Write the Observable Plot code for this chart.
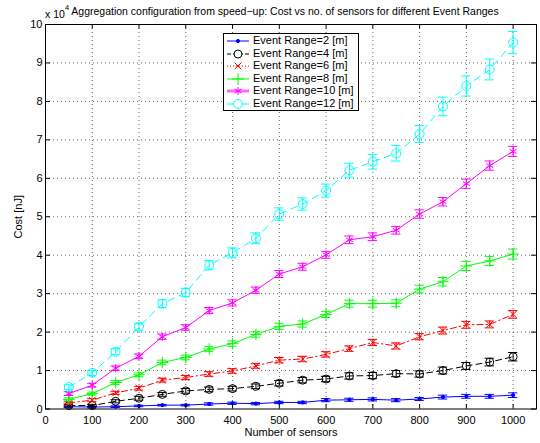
<!DOCTYPE html>
<html><head><meta charset="utf-8">
<script src="https://cdn.jsdelivr.net/npm/d3@7"></script>
<script src="https://cdn.jsdelivr.net/npm/@observablehq/plot@0.6"></script>
<style>
body{margin:0;background:#fff;font-family:"Liberation Sans",Arial,sans-serif;}
#wrap{position:relative;width:540px;height:443px;}
.t{position:absolute;font-size:11px;white-space:nowrap;color:#000;line-height:1;}
#legend{position:absolute;left:223px;top:33px;width:136px;height:78px;border:1px solid #000;background:#fff;box-sizing:border-box;}
.row{position:absolute;left:0;height:12px;font-size:11px;white-space:nowrap;}
.row svg{position:absolute;left:2px;top:0;}
.row span{position:absolute;left:29px;top:-1px;line-height:13px;}
</style></head>
<body><div id="wrap"></div>
<script>
const sensors = [50,100,150,200,250,300,350,400,450,500,550,600,650,700,750,800,850,900,950,1000];
const names = ["Event Range=2 [m]","Event Range=4 [m]","Event Range=6 [m]","Event Range=8 [m]","Event Range=10 [m]","Event Range=12 [m]"];
const range2  = [0.06,0.05,0.06,0.08,0.10,0.10,0.13,0.15,0.14,0.17,0.17,0.23,0.24,0.25,0.23,0.26,0.31,0.33,0.33,0.36];
const range4  = [0.09,0.09,0.20,0.28,0.38,0.47,0.51,0.53,0.59,0.67,0.75,0.78,0.86,0.87,0.92,0.91,1.00,1.12,1.22,1.36];
const range6  = [0.16,0.23,0.42,0.54,0.75,0.82,0.91,0.99,1.12,1.27,1.30,1.42,1.57,1.73,1.64,1.88,2.04,2.19,2.20,2.46];
const range8  = [0.25,0.40,0.69,0.89,1.21,1.34,1.56,1.70,1.94,2.15,2.21,2.46,2.74,2.74,2.75,3.12,3.31,3.72,3.85,4.03];
const range10 = [0.40,0.62,1.06,1.37,1.88,2.12,2.56,2.76,3.09,3.51,3.70,4.01,4.40,4.48,4.65,5.07,5.39,5.86,6.33,6.70];
const range12 = [0.57,0.94,1.49,2.14,2.74,3.03,3.74,4.06,4.44,5.07,5.33,5.68,6.21,6.43,6.65,7.15,7.87,8.40,8.83,9.53];
const err2  = [0.02,0.02,0.02,0.02,0.02,0.02,0.03,0.03,0.03,0.03,0.03,0.04,0.04,0.04,0.04,0.04,0.05,0.05,0.05,0.06];
const err4  = [0.03,0.03,0.04,0.05,0.05,0.06,0.06,0.06,0.06,0.07,0.07,0.07,0.08,0.08,0.08,0.08,0.09,0.09,0.10,0.11];
const err6  = [0.03,0.04,0.04,0.05,0.05,0.05,0.06,0.06,0.06,0.07,0.07,0.07,0.07,0.08,0.08,0.08,0.09,0.09,0.09,0.10];
const err8  = [0.04,0.04,0.05,0.05,0.06,0.06,0.06,0.07,0.07,0.08,0.08,0.08,0.09,0.09,0.09,0.10,0.11,0.12,0.12,0.13];
const err10 = [0.05,0.05,0.06,0.06,0.07,0.07,0.08,0.08,0.08,0.09,0.09,0.09,0.10,0.10,0.10,0.11,0.11,0.12,0.12,0.13];
const err12 = [0.06,0.07,0.08,0.09,0.10,0.11,0.12,0.13,0.14,0.16,0.16,0.17,0.18,0.19,0.20,0.22,0.24,0.26,0.27,0.29];
const xTicks = [0,100,200,300,400,500,600,700,800,900,1000];
const yTicks = [0,1,2,3,4,5,6,7,8,9,10];

const values = [range2, range4, range6, range8, range10, range12];
const errors = [err2, err4, err6, err8, err10, err12];
const styles = [
  {color:"#0000ff", dash:null, symbol:"circle", r:1.6, fill:"#0000ff", lw:1},
  {color:"#000000", dash:"6,4", symbol:"circle", r:4, fill:"none", lw:1},
  {color:"#ff0000", dash:"6,3,1.5,3", symbol:"times", r:3.2, fill:"none", lw:1},
  {color:"#00ff00", dash:null, symbol:"plus", r:3.8, fill:"none", lw:1},
  {color:"#ff00ff", dash:null, symbol:"asterisk", r:3.8, fill:"none", lw:1},
  {color:"#00ffff", dash:"7,5", symbol:"circle", r:4.5, fill:"none", lw:1}
];

const marks = [
  Plot.gridX(xTicks.slice(1), {stroke:"#000", strokeOpacity:0.6, strokeDasharray:"1,3"}),
  Plot.gridY(yTicks.slice(1, -1), {stroke:"#000", strokeOpacity:0.6, strokeDasharray:"1,3"})
];
values.forEach((vals, i) => {
  const s = styles[i];
  const rows = sensors.map((x, j) => ({x, y: vals[j], e: errors[i][j]}));
  marks.push(
    Plot.line(rows, {x:"x", y:"y", stroke:s.color, strokeWidth:s.lw, strokeDasharray:s.dash}),
    Plot.ruleX(rows, {x:"x", y1:d=>d.y-d.e, y2:d=>d.y+d.e, stroke:s.color, strokeWidth:1}),
    Plot.ruleY(rows, {y:d=>d.y-d.e, x1:d=>d.x-10, x2:d=>d.x+10, stroke:s.color, strokeWidth:1}),
    Plot.ruleY(rows, {y:d=>d.y+d.e, x1:d=>d.x-10, x2:d=>d.x+10, stroke:s.color, strokeWidth:1}),
    Plot.dot(rows, {x:"x", y:"y", symbol:s.symbol, r:s.r, stroke:s.color, fill:s.fill, strokeWidth:1})
  );
});
marks.push(
  Plot.ruleX(xTicks, {x:d=>d, insetTop:380, stroke:"#000"}),
  Plot.ruleX(xTicks, {x:d=>d, insetBottom:380, stroke:"#000"}),
  Plot.ruleY(yTicks, {y:d=>d, insetRight:486, stroke:"#000"}),
  Plot.ruleY(yTicks, {y:d=>d, insetLeft:486, stroke:"#000"}),
  Plot.axisX(xTicks, {tickSize:0, tickPadding:7, fontSize:11, tickFormat:d=>String(d), label:"Number of sensors", labelAnchor:"center", labelOffset:27, labelArrow:"none"}),
  Plot.axisY(yTicks, {tickSize:0, tickPadding:3, fontSize:11, tickFormat:d=>String(d), label:"Cost [nJ]", labelAnchor:"center", labelOffset:31, labelArrow:"none"}),
  Plot.frame({stroke:"#000", strokeWidth:1})
);

const chart = Plot.plot({
  width:540, height:443,
  marginLeft:45, marginRight:4, marginTop:24, marginBottom:34.5,
  style:{fontFamily:"'Liberation Sans', Arial, sans-serif", fontSize:"11px", color:"#000", background:"#fff"},
  x:{domain:[0,1050]},
  y:{domain:[0,10]},
  marks
});
const wrap = document.getElementById("wrap");
wrap.appendChild(chart);

function addText(txt, left, top, extra) {
  const d = document.createElement("div");
  d.className = "t"; d.textContent = txt;
  d.style.left = left + "px"; d.style.top = top + "px";
  if (extra) Object.assign(d.style, extra);
  wrap.appendChild(d);
  return d;
}
addText("Aggregation configuration from speed\u2212up: Cost vs no. of sensors for different Event Ranges", 285, 6, {transform:"translateX(-50%)", fontSize:"10.5px"});
addText("x 10", 45, 9, {fontSize:"10.5px"});
addText("4", 65, 4, {fontSize:"7.5px"});

const legend = document.createElement("div");
legend.id = "legend";
wrap.appendChild(legend);
names.forEach((name, i) => {
  const s = styles[i];
  const row = document.createElement("div");
  row.className = "row";
  row.style.top = (1 + i * 12.6) + "px";
  const svg = d3.create("svg").attr("width", 24).attr("height", 12);
  svg.append("line").attr("x1", 1).attr("x2", 23).attr("y1", 6).attr("y2", 6)
    .attr("stroke", s.color).attr("stroke-width", i === 4 ? 3 : 1)
    .attr("stroke-opacity", i === 4 ? 0.6 : 1)
    .attr("stroke-dasharray", i === 2 ? "1,2" : (i === 1 ? "4,2" : null));
  const symMap = {circle:d3.symbolCircle, times:d3.symbolTimes, plus:d3.symbolPlus, asterisk:d3.symbolAsterisk};
  svg.append("path").attr("transform", "translate(12,6)")
    .attr("d", d3.symbol(symMap[s.symbol], Math.PI * s.r * s.r)())
    .attr("stroke", s.color).attr("fill", s.fill === "none" ? "#fff" : s.fill);
  row.appendChild(svg.node());
  const sp = document.createElement("span");
  sp.textContent = name;
  row.appendChild(sp);
  legend.appendChild(row);
});
</script>
</body></html>
